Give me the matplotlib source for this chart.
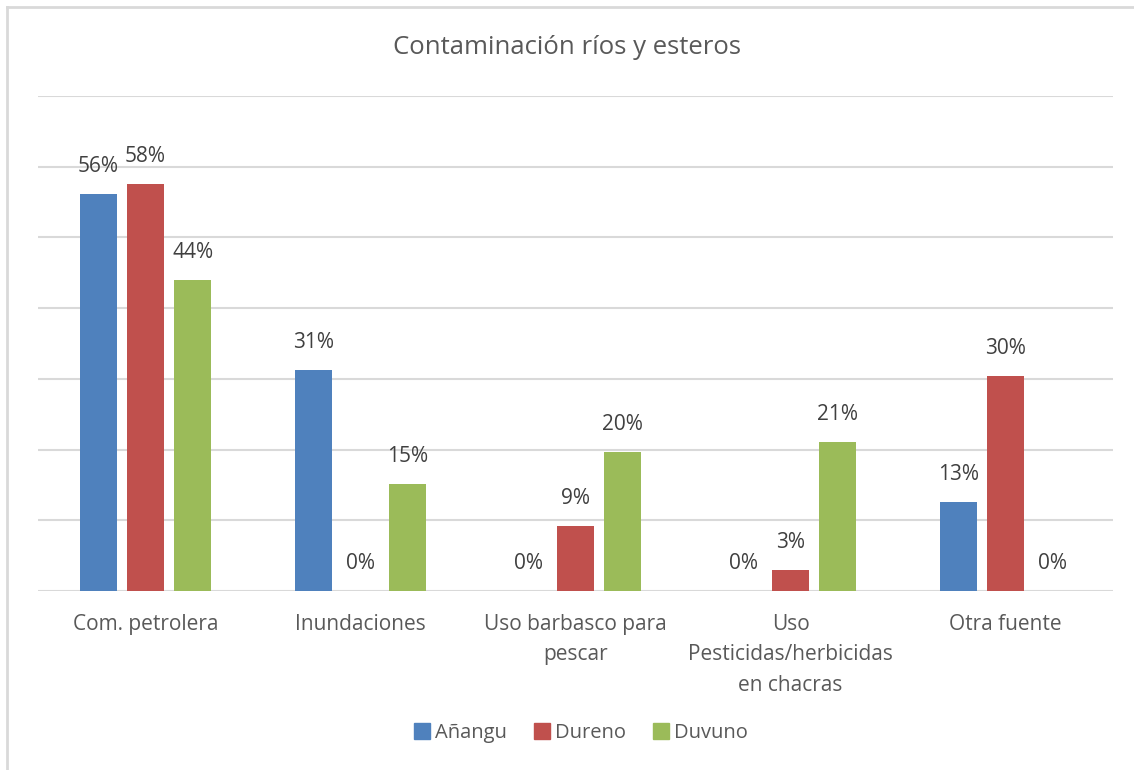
import numpy as np
import matplotlib.pyplot as plt
from matplotlib.lines import Line2D

categories = ['Com. petrolera', 'Inundaciones', 'Uso barbasco para\npescar',
              'Uso\nPesticidas/herbicidas\nen chacras', 'Otra fuente']
series = ['Añangu', 'Dureno', 'Duvuno']
anangu = [56.1, 31.3, 0, 0, 12.6]
dureno = [57.6, 0, 9.2, 3.0, 30.4]
duvuno = [44.0, 15.1, 19.7, 21.1, 0]
colors = ['#4F81BD', '#C0504D', '#9BBB59']

plt.rcParams['font.family'] = ['Open Sans', 'DejaVu Sans']

fig = plt.figure(figsize=(11.34, 7.70), dpi=100)
ax = fig.add_axes([0.0335, 0.2325, 0.948, 0.6428])

ind = np.arange(len(categories))
width = 0.172
offsets = [-0.219, 0, 0.219]

for vals, off, col, name in zip([anangu, dureno, duvuno], offsets, colors, series):
    bars = ax.bar(ind + off, vals, width, color=col, label=name, zorder=3)
    for b, v in zip(bars, vals):
        ax.text(b.get_x() + b.get_width() / 2, v + 2.4, '%.0f%%' % v,
                ha='center', va='bottom', fontsize=15, color='#404040')

ax.set_xlim(-0.5, 4.5)
ax.set_ylim(0, 70)
ax.set_yticks(np.arange(0, 71, 10))
ax.yaxis.grid(True, color='#D9D9D9', linewidth=1.5, zorder=0)
ax.tick_params(axis='y', left=False, labelleft=False)
ax.tick_params(axis='x', bottom=False, pad=13)
ax.set_xticks(ind)
ax.set_xticklabels(categories, fontsize=15, color='#595959', linespacing=1.6,
                   va='top')
for s in ax.spines.values():
    s.set_visible(False)

fig.text(0.5, 0.938, 'Contaminación ríos y esteros', ha='center', va='center',
         fontsize=18.5, color='#595959')

handles = [Line2D([], [], marker='s', linestyle='', markersize=11,
                  markerfacecolor=c, markeredgecolor=c) for c in colors]
fig.legend(handles, series, loc='center', bbox_to_anchor=(0.51, 0.048), ncol=3,
           frameon=False, fontsize=14.5, handletextpad=0.0, columnspacing=1.1,
           handlelength=1.3, labelcolor='#595959')

# frame lines at top and left
fig.add_artist(Line2D([0.0066, 1.0], [0.9915, 0.9915], color='#D9D9D9', linewidth=2,
                      transform=fig.transFigure))
fig.add_artist(Line2D([0.0066, 0.0066], [0.0, 0.9915], color='#D9D9D9', linewidth=2,
                      transform=fig.transFigure))

plt.savefig('out.png', dpi=100)
